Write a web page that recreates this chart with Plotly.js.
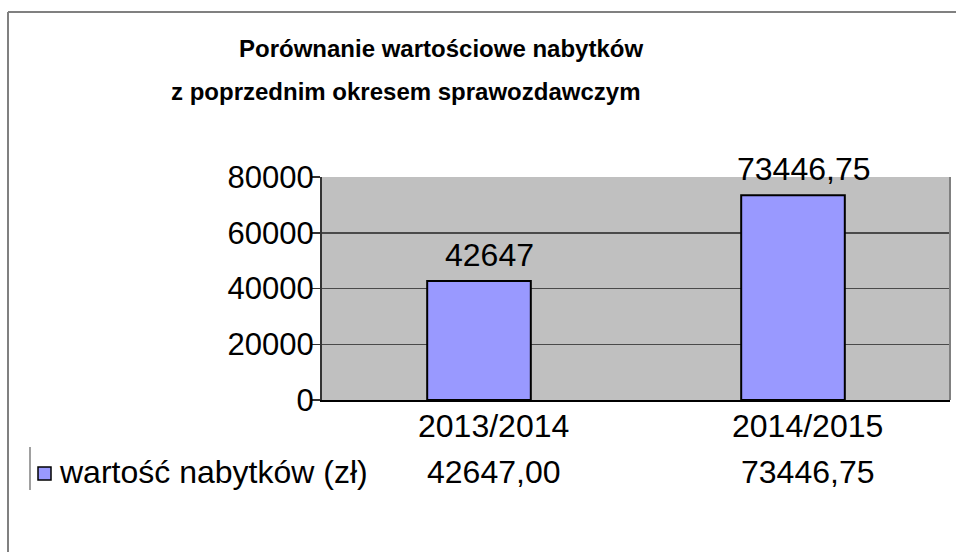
<!DOCTYPE html>
<html>
<head>
<meta charset="utf-8">
<script src="https://cdn.plot.ly/plotly-3.0.1.min.js"></script>
<style>
  body { margin: 0; background: #fff; }
  #myDiv { width: 956px; height: 552px; }
</style>
</head>
<body>
<div id="myDiv"></div>
<script>
// data
var categories = ['2013/2014', '2014/2015'];
var values = [42647, 73446.75];
var seriesName = 'wartość nabytków (zł)';
var titleLines = ['Porównanie wartościowe nabytków', 'z poprzednim okresem sprawozdawczym'];

// plot box in pixels (used to place the odd bits outside the axes)
var W = 956, H = 552;
var L = 322, R = 6, T = 177, B = 152;
var pw = W - L - R, ph = H - T - B;
function px(x) { return (x - L) / pw; }
function py(y) { return (H - B - y) / ph; }

var font = 'Liberation Sans, Arial, sans-serif';
var barColor = '#9999ff';
var fs = 32;

function label(v) { return String(v).replace('.', ','); }
function tableVal(v) { return v.toFixed(2).replace('.', ','); }

var trace1 = {
  x: categories,
  y: values,
  type: 'bar',
  name: seriesName,
  width: 0.33,
  marker: {color: barColor, line: {color: '#000', width: 2}},
  hoverinfo: 'none'
};

var annotations = [];

// title, two separate lines
annotations.push({
  text: '<b>' + titleLines[0] + '</b>', xref: 'paper', yref: 'paper',
  x: px(441), y: py(49), xanchor: 'center', yanchor: 'middle', showarrow: false,
  font: {family: 'Liberation Sans Narrow, Arial Narrow, ' + font, size: 24, color: '#000'}
});
annotations.push({
  text: '<b>' + titleLines[1] + '</b>', xref: 'paper', yref: 'paper',
  x: px(405), y: py(91), xanchor: 'center', yanchor: 'middle', showarrow: false,
  font: {family: 'Liberation Sans Narrow, Arial Narrow, ' + font, size: 24, color: '#000'}
});

categories.forEach(function (c, i) {
  // value above bar
  annotations.push({
    text: label(values[i]), x: c, y: values[i], xref: 'x', yref: 'y',
    xanchor: 'center', yanchor: 'bottom', xshift: 10, yshift: 6, showarrow: false,
    font: {family: font, size: fs, color: '#000'}
  });
  // category label
  annotations.push({
    text: c, x: c, y: py(426), xref: 'x', yref: 'paper',
    xanchor: 'center', yanchor: 'middle', xshift: 14, showarrow: false,
    font: {family: font, size: fs, color: '#000'}
  });
  // data table value
  annotations.push({
    text: tableVal(values[i]), x: c, y: py(472), xref: 'x', yref: 'paper',
    xanchor: 'center', yanchor: 'middle', xshift: 14, showarrow: false,
    font: {family: font, size: fs, color: '#000'}
  });
});

// data table row name
annotations.push({
  text: seriesName, xref: 'paper', yref: 'paper',
  x: px(57), y: py(472), xanchor: 'left', yanchor: 'middle', showarrow: false,
  font: {family: font, size: 32, color: '#000'}
});

var shapes = [
  // outer frame (top + left only show)
  {type: 'line', xref: 'paper', yref: 'paper', x0: px(8), x1: px(960), y0: py(12), y1: py(12),
   line: {color: '#808080', width: 2}},
  {type: 'line', xref: 'paper', yref: 'paper', x0: px(8), x1: px(8), y0: py(12), y1: py(560),
   line: {color: '#808080', width: 2}},
  // right edge of plot area
  {type: 'line', xref: 'paper', yref: 'paper', x0: 1, x1: 1, y0: 0, y1: 1,
   line: {color: '#808080', width: 2}},
  // table separator
  {type: 'line', xref: 'paper', yref: 'paper', x0: px(30), x1: px(30), y0: py(447), y1: py(490),
   line: {color: '#808080', width: 1.5}},
  // legend key
  {type: 'rect', xref: 'paper', yref: 'paper', x0: px(38), x1: px(51), y0: py(467), y1: py(480),
   fillcolor: barColor, line: {color: '#000', width: 1.5}}
];

var layout = {
  width: W, height: H,
  margin: {l: L, r: R, t: T, b: B, pad: 0},
  paper_bgcolor: '#fff',
  plot_bgcolor: '#c0c0c0',
  showlegend: false,
  font: {family: font, color: '#000'},
  xaxis: {
    type: 'category', range: [-0.5, 1.5],
    showticklabels: false, showgrid: false, zeroline: false,
    showline: true, linecolor: '#000', linewidth: 2, fixedrange: true
  },
  yaxis: {
    range: [0, 80000], dtick: 20000, tickformat: 'd',
    ticks: 'outside', ticklen: 8, tickcolor: '#333', tickwidth: 1.5,
    ticklabelstandoff: -8,
    showline: true, linecolor: '#333', linewidth: 2,
    gridcolor: '#4a4a4a', gridwidth: 1.5, zeroline: false,
    tickfont: {family: font, size: 31, color: '#000'}, fixedrange: true
  },
  annotations: annotations,
  shapes: shapes
};

var plotDiv = document.getElementById('myDiv');
Plotly.newPlot(plotDiv, [trace1], layout, {staticPlot: true});
</script>
</body>
</html>
